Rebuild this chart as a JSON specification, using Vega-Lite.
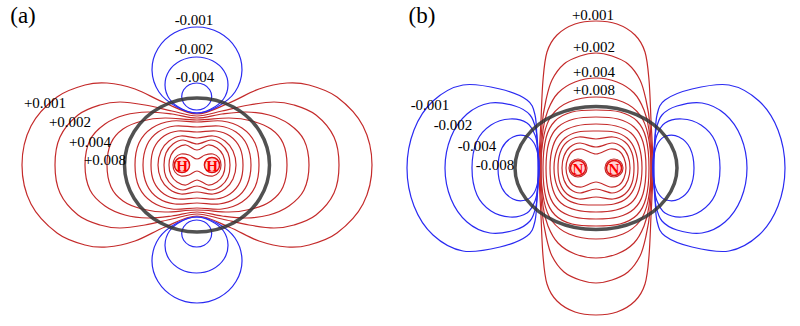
{
"$schema": "https://vega.github.io/schema/vega-lite/v6.json",
"width": 800, "height": 326, "padding": 0,
"autosize": {"type": "fit", "contains": "padding"},
"background": "white",
"config": {"view": {"stroke": null}},
"datasets": {
"red": [
{"c":"a1","x":22,"y":165},{"c":"a1","x":31,"y":126},{"c":"a1","x":57,"y":97},{"c":"a1","x":85,"y":85},{"c":"a1","x":107,"y":83},{"c":"a1","x":135,"y":89},{"c":"a1","x":165,"y":103},{"c":"a1","x":197,"y":114},{"c":"a1","x":229,"y":103},{"c":"a1","x":259,"y":89},{"c":"a1","x":287,"y":83},{"c":"a1","x":309,"y":85},{"c":"a1","x":337,"y":97},{"c":"a1","x":363,"y":126},{"c":"a1","x":372,"y":165},{"c":"a1","x":363,"y":204},{"c":"a1","x":337,"y":233},{"c":"a1","x":309,"y":245},{"c":"a1","x":287,"y":247},{"c":"a1","x":259,"y":241},{"c":"a1","x":229,"y":227},{"c":"a1","x":197,"y":216},{"c":"a1","x":165,"y":227},{"c":"a1","x":135,"y":241},{"c":"a1","x":107,"y":247},{"c":"a1","x":85,"y":245},{"c":"a1","x":57,"y":233},{"c":"a1","x":31,"y":204},
{"c":"a2","x":55,"y":165},{"c":"a2","x":60,"y":137},{"c":"a2","x":78,"y":115},{"c":"a2","x":100,"y":105},{"c":"a2","x":120,"y":102},{"c":"a2","x":145,"y":105},{"c":"a2","x":172,"y":111},{"c":"a2","x":197,"y":116},{"c":"a2","x":222,"y":111},{"c":"a2","x":249,"y":105},{"c":"a2","x":274,"y":102},{"c":"a2","x":294,"y":105},{"c":"a2","x":316,"y":115},{"c":"a2","x":334,"y":137},{"c":"a2","x":339,"y":165},{"c":"a2","x":334,"y":193},{"c":"a2","x":316,"y":215},{"c":"a2","x":294,"y":225},{"c":"a2","x":274,"y":228},{"c":"a2","x":249,"y":225},{"c":"a2","x":222,"y":219},{"c":"a2","x":197,"y":214},{"c":"a2","x":172,"y":219},{"c":"a2","x":145,"y":225},{"c":"a2","x":120,"y":228},{"c":"a2","x":100,"y":225},{"c":"a2","x":78,"y":215},{"c":"a2","x":60,"y":193},
{"c":"a3","x":85,"y":165},{"c":"a3","x":90,"y":140},{"c":"a3","x":105,"y":124},{"c":"a3","x":125,"y":115},{"c":"a3","x":148,"y":112},{"c":"a3","x":172,"y":114},{"c":"a3","x":197,"y":118},{"c":"a3","x":222,"y":114},{"c":"a3","x":246,"y":112},{"c":"a3","x":269,"y":115},{"c":"a3","x":289,"y":124},{"c":"a3","x":304,"y":140},{"c":"a3","x":309,"y":165},{"c":"a3","x":304,"y":190},{"c":"a3","x":289,"y":206},{"c":"a3","x":269,"y":215},{"c":"a3","x":246,"y":218},{"c":"a3","x":222,"y":216},{"c":"a3","x":197,"y":212},{"c":"a3","x":172,"y":216},{"c":"a3","x":148,"y":218},{"c":"a3","x":125,"y":215},{"c":"a3","x":105,"y":206},{"c":"a3","x":90,"y":190},
{"c":"a4","x":107,"y":165},{"c":"a4","x":111,"y":143},{"c":"a4","x":123,"y":129},{"c":"a4","x":142,"y":121},{"c":"a4","x":165,"y":118},{"c":"a4","x":197,"y":120},{"c":"a4","x":229,"y":118},{"c":"a4","x":252,"y":121},{"c":"a4","x":271,"y":129},{"c":"a4","x":283,"y":143},{"c":"a4","x":287,"y":165},{"c":"a4","x":283,"y":187},{"c":"a4","x":271,"y":201},{"c":"a4","x":252,"y":209},{"c":"a4","x":229,"y":212},{"c":"a4","x":197,"y":210},{"c":"a4","x":165,"y":212},{"c":"a4","x":142,"y":209},{"c":"a4","x":123,"y":201},{"c":"a4","x":111,"y":187},
{"c":"a5","x":135,"y":165},{"c":"a5","x":139,"y":143},{"c":"a5","x":152,"y":128},{"c":"a5","x":172,"y":121},{"c":"a5","x":197,"y":122},{"c":"a5","x":222,"y":121},{"c":"a5","x":242,"y":128},{"c":"a5","x":255,"y":143},{"c":"a5","x":259,"y":165},{"c":"a5","x":255,"y":187},{"c":"a5","x":242,"y":202},{"c":"a5","x":222,"y":209},{"c":"a5","x":197,"y":208},{"c":"a5","x":172,"y":209},{"c":"a5","x":152,"y":202},{"c":"a5","x":139,"y":187},
{"c":"a6","x":143,"y":165},{"c":"a6","x":147,"y":145},{"c":"a6","x":158,"y":132},{"c":"a6","x":175,"y":126},{"c":"a6","x":197,"y":127},{"c":"a6","x":219,"y":126},{"c":"a6","x":236,"y":132},{"c":"a6","x":247,"y":145},{"c":"a6","x":251,"y":165},{"c":"a6","x":247,"y":185},{"c":"a6","x":236,"y":198},{"c":"a6","x":219,"y":204},{"c":"a6","x":197,"y":203},{"c":"a6","x":175,"y":204},{"c":"a6","x":158,"y":198},{"c":"a6","x":147,"y":185},
{"c":"a7","x":151,"y":165},{"c":"a7","x":154,"y":148},{"c":"a7","x":164,"y":136},{"c":"a7","x":178,"y":131},{"c":"a7","x":197,"y":132},{"c":"a7","x":216,"y":131},{"c":"a7","x":230,"y":136},{"c":"a7","x":240,"y":148},{"c":"a7","x":243,"y":165},{"c":"a7","x":240,"y":182},{"c":"a7","x":230,"y":194},{"c":"a7","x":216,"y":199},{"c":"a7","x":197,"y":198},{"c":"a7","x":178,"y":199},{"c":"a7","x":164,"y":194},{"c":"a7","x":154,"y":182},
{"c":"a8","x":158,"y":165},{"c":"a8","x":161,"y":151},{"c":"a8","x":169,"y":141},{"c":"a8","x":181,"y":136},{"c":"a8","x":197,"y":138},{"c":"a8","x":213,"y":136},{"c":"a8","x":225,"y":141},{"c":"a8","x":233,"y":151},{"c":"a8","x":236,"y":165},{"c":"a8","x":233,"y":179},{"c":"a8","x":225,"y":189},{"c":"a8","x":213,"y":194},{"c":"a8","x":197,"y":192},{"c":"a8","x":181,"y":194},{"c":"a8","x":169,"y":189},{"c":"a8","x":161,"y":179},
{"c":"a9","x":164,"y":165},{"c":"a9","x":166,"y":153},{"c":"a9","x":173,"y":144},{"c":"a9","x":183,"y":140},{"c":"a9","x":197,"y":144},{"c":"a9","x":211,"y":140},{"c":"a9","x":221,"y":144},{"c":"a9","x":228,"y":153},{"c":"a9","x":230,"y":165},{"c":"a9","x":228,"y":177},{"c":"a9","x":221,"y":186},{"c":"a9","x":211,"y":190},{"c":"a9","x":197,"y":186},{"c":"a9","x":183,"y":190},{"c":"a9","x":173,"y":186},{"c":"a9","x":166,"y":177},
{"c":"a10","x":169,"y":165},{"c":"a10","x":171,"y":155},{"c":"a10","x":177,"y":148},{"c":"a10","x":186,"y":145},{"c":"a10","x":197,"y":150},{"c":"a10","x":208,"y":145},{"c":"a10","x":217,"y":148},{"c":"a10","x":223,"y":155},{"c":"a10","x":225,"y":165},{"c":"a10","x":223,"y":175},{"c":"a10","x":217,"y":182},{"c":"a10","x":208,"y":185},{"c":"a10","x":197,"y":180},{"c":"a10","x":186,"y":185},{"c":"a10","x":177,"y":182},{"c":"a10","x":171,"y":175},
{"c":"a11","x":173,"y":165},{"c":"a11","x":175,"y":158},{"c":"a11","x":181,"y":154},{"c":"a11","x":189,"y":155},{"c":"a11","x":197,"y":159},{"c":"a11","x":205,"y":155},{"c":"a11","x":213,"y":154},{"c":"a11","x":219,"y":158},{"c":"a11","x":221,"y":165},{"c":"a11","x":219,"y":172},{"c":"a11","x":213,"y":176},{"c":"a11","x":205,"y":175},{"c":"a11","x":197,"y":171},{"c":"a11","x":189,"y":175},{"c":"a11","x":181,"y":176},{"c":"a11","x":175,"y":172},
{"c":"b1","x":539,"y":168},{"c":"b1","x":541,"y":120},{"c":"b1","x":543,"y":80},{"c":"b1","x":547,"y":52},{"c":"b1","x":557,"y":35},{"c":"b1","x":575,"y":24},{"c":"b1","x":596,"y":21},{"c":"b1","x":617,"y":24},{"c":"b1","x":635,"y":35},{"c":"b1","x":645,"y":52},{"c":"b1","x":649,"y":80},{"c":"b1","x":651,"y":120},{"c":"b1","x":653,"y":168},{"c":"b1","x":651,"y":216},{"c":"b1","x":649,"y":256},{"c":"b1","x":645,"y":284},{"c":"b1","x":635,"y":301},{"c":"b1","x":617,"y":312},{"c":"b1","x":596,"y":315},{"c":"b1","x":575,"y":312},{"c":"b1","x":557,"y":301},{"c":"b1","x":547,"y":284},{"c":"b1","x":543,"y":256},{"c":"b1","x":541,"y":216},
{"c":"b2","x":540,"y":168},{"c":"b2","x":542,"y":125},{"c":"b2","x":546,"y":100},{"c":"b2","x":552,"y":80},{"c":"b2","x":564,"y":64},{"c":"b2","x":580,"y":56},{"c":"b2","x":596,"y":53},{"c":"b2","x":612,"y":56},{"c":"b2","x":628,"y":64},{"c":"b2","x":640,"y":80},{"c":"b2","x":646,"y":100},{"c":"b2","x":650,"y":125},{"c":"b2","x":652,"y":168},{"c":"b2","x":650,"y":211},{"c":"b2","x":646,"y":236},{"c":"b2","x":640,"y":256},{"c":"b2","x":628,"y":272},{"c":"b2","x":612,"y":280},{"c":"b2","x":596,"y":283},{"c":"b2","x":580,"y":280},{"c":"b2","x":564,"y":272},{"c":"b2","x":552,"y":256},{"c":"b2","x":546,"y":236},{"c":"b2","x":542,"y":211},
{"c":"b3","x":541,"y":168},{"c":"b3","x":543,"y":130},{"c":"b3","x":548,"y":110},{"c":"b3","x":558,"y":93},{"c":"b3","x":575,"y":82},{"c":"b3","x":596,"y":78},{"c":"b3","x":617,"y":82},{"c":"b3","x":634,"y":93},{"c":"b3","x":644,"y":110},{"c":"b3","x":649,"y":130},{"c":"b3","x":651,"y":168},{"c":"b3","x":649,"y":206},{"c":"b3","x":644,"y":226},{"c":"b3","x":634,"y":243},{"c":"b3","x":617,"y":254},{"c":"b3","x":596,"y":258},{"c":"b3","x":575,"y":254},{"c":"b3","x":558,"y":243},{"c":"b3","x":548,"y":226},{"c":"b3","x":543,"y":206},
{"c":"b4","x":541,"y":168},{"c":"b4","x":544,"y":135},{"c":"b4","x":552,"y":115},{"c":"b4","x":569,"y":102},{"c":"b4","x":596,"y":97},{"c":"b4","x":623,"y":102},{"c":"b4","x":640,"y":115},{"c":"b4","x":648,"y":135},{"c":"b4","x":651,"y":168},{"c":"b4","x":648,"y":201},{"c":"b4","x":640,"y":221},{"c":"b4","x":623,"y":234},{"c":"b4","x":596,"y":239},{"c":"b4","x":569,"y":234},{"c":"b4","x":552,"y":221},{"c":"b4","x":544,"y":201},
{"c":"b5","x":543,"y":168},{"c":"b5","x":546,"y":138},{"c":"b5","x":555,"y":121},{"c":"b5","x":572,"y":112},{"c":"b5","x":596,"y":110},{"c":"b5","x":620,"y":112},{"c":"b5","x":637,"y":121},{"c":"b5","x":646,"y":138},{"c":"b5","x":649,"y":168},{"c":"b5","x":646,"y":198},{"c":"b5","x":637,"y":215},{"c":"b5","x":620,"y":224},{"c":"b5","x":596,"y":226},{"c":"b5","x":572,"y":224},{"c":"b5","x":555,"y":215},{"c":"b5","x":546,"y":198},
{"c":"b6","x":546,"y":168},{"c":"b6","x":549,"y":142},{"c":"b6","x":558,"y":127},{"c":"b6","x":574,"y":119},{"c":"b6","x":596,"y":117},{"c":"b6","x":618,"y":119},{"c":"b6","x":634,"y":127},{"c":"b6","x":643,"y":142},{"c":"b6","x":646,"y":168},{"c":"b6","x":643,"y":194},{"c":"b6","x":634,"y":209},{"c":"b6","x":618,"y":217},{"c":"b6","x":596,"y":219},{"c":"b6","x":574,"y":217},{"c":"b6","x":558,"y":209},{"c":"b6","x":549,"y":194},
{"c":"b7","x":550,"y":168},{"c":"b7","x":553,"y":146},{"c":"b7","x":561,"y":133},{"c":"b7","x":576,"y":126},{"c":"b7","x":596,"y":124},{"c":"b7","x":616,"y":126},{"c":"b7","x":631,"y":133},{"c":"b7","x":639,"y":146},{"c":"b7","x":642,"y":168},{"c":"b7","x":639,"y":190},{"c":"b7","x":631,"y":203},{"c":"b7","x":616,"y":210},{"c":"b7","x":596,"y":212},{"c":"b7","x":576,"y":210},{"c":"b7","x":561,"y":203},{"c":"b7","x":553,"y":190},
{"c":"b8","x":554,"y":168},{"c":"b8","x":557,"y":150},{"c":"b8","x":565,"y":138},{"c":"b8","x":578,"y":132},{"c":"b8","x":596,"y":131},{"c":"b8","x":614,"y":132},{"c":"b8","x":627,"y":138},{"c":"b8","x":635,"y":150},{"c":"b8","x":638,"y":168},{"c":"b8","x":635,"y":186},{"c":"b8","x":627,"y":198},{"c":"b8","x":614,"y":204},{"c":"b8","x":596,"y":205},{"c":"b8","x":578,"y":204},{"c":"b8","x":565,"y":198},{"c":"b8","x":557,"y":186},
{"c":"b9","x":558,"y":168},{"c":"b9","x":560,"y":153},{"c":"b9","x":567,"y":142},{"c":"b9","x":579,"y":137},{"c":"b9","x":596,"y":139},{"c":"b9","x":613,"y":137},{"c":"b9","x":625,"y":142},{"c":"b9","x":632,"y":153},{"c":"b9","x":634,"y":168},{"c":"b9","x":632,"y":183},{"c":"b9","x":625,"y":194},{"c":"b9","x":613,"y":199},{"c":"b9","x":596,"y":197},{"c":"b9","x":579,"y":199},{"c":"b9","x":567,"y":194},{"c":"b9","x":560,"y":183},
{"c":"b10","x":562,"y":168},{"c":"b10","x":564,"y":156},{"c":"b10","x":570,"y":147},{"c":"b10","x":580,"y":143},{"c":"b10","x":596,"y":147},{"c":"b10","x":612,"y":143},{"c":"b10","x":622,"y":147},{"c":"b10","x":628,"y":156},{"c":"b10","x":630,"y":168},{"c":"b10","x":628,"y":180},{"c":"b10","x":622,"y":189},{"c":"b10","x":612,"y":193},{"c":"b10","x":596,"y":189},{"c":"b10","x":580,"y":193},{"c":"b10","x":570,"y":189},{"c":"b10","x":564,"y":180},
{"c":"b11","x":566,"y":168},{"c":"b11","x":568,"y":158},{"c":"b11","x":573,"y":151},{"c":"b11","x":582,"y":149},{"c":"b11","x":596,"y":154},{"c":"b11","x":610,"y":149},{"c":"b11","x":619,"y":151},{"c":"b11","x":624,"y":158},{"c":"b11","x":626,"y":168},{"c":"b11","x":624,"y":178},{"c":"b11","x":619,"y":185},{"c":"b11","x":610,"y":187},{"c":"b11","x":596,"y":182},{"c":"b11","x":582,"y":187},{"c":"b11","x":573,"y":185},{"c":"b11","x":568,"y":178},
{"c":"b12","x":569,"y":168},{"c":"b12","x":571.6,"y":161.6},{"c":"b12","x":578,"y":159},{"c":"b12","x":584.4,"y":161.6},{"c":"b12","x":587,"y":168},{"c":"b12","x":584.4,"y":174.4},{"c":"b12","x":578,"y":177},{"c":"b12","x":571.6,"y":174.4},
{"c":"b13","x":605,"y":168},{"c":"b13","x":607.6,"y":161.6},{"c":"b13","x":614,"y":159},{"c":"b13","x":620.4,"y":161.6},{"c":"b13","x":623,"y":168},{"c":"b13","x":620.4,"y":174.4},{"c":"b13","x":614,"y":177},{"c":"b13","x":607.6,"y":174.4}
],
"blue": [
{"c":"a1t","x":242,"y":70},{"c":"a1t","x":236,"y":48.5},{"c":"a1t","x":219.5,"y":32.8},{"c":"a1t","x":197,"y":27},{"c":"a1t","x":174.5,"y":32.8},{"c":"a1t","x":158,"y":48.5},{"c":"a1t","x":152,"y":70},{"c":"a1t","x":159,"y":92},{"c":"a1t","x":177,"y":107},{"c":"a1t","x":197,"y":113},{"c":"a1t","x":217,"y":107},{"c":"a1t","x":235,"y":92},
{"c":"a2t","x":228,"y":85},{"c":"a2t","x":224,"y":71},{"c":"a2t","x":212.5,"y":60.8},{"c":"a2t","x":196.5,"y":57},{"c":"a2t","x":180.5,"y":60.8},{"c":"a2t","x":169,"y":71},{"c":"a2t","x":165,"y":85},{"c":"a2t","x":169.5,"y":99},{"c":"a2t","x":182,"y":109},{"c":"a2t","x":196.5,"y":113},{"c":"a2t","x":211,"y":109},{"c":"a2t","x":223.5,"y":99},
{"c":"a3t","x":211.7,"y":96.5},{"c":"a3t","x":209.7,"y":89.7},{"c":"a3t","x":204.2,"y":84.8},{"c":"a3t","x":196.7,"y":83},{"c":"a3t","x":189.2,"y":84.8},{"c":"a3t","x":183.7,"y":89.7},{"c":"a3t","x":181.7,"y":96.5},{"c":"a3t","x":183.7,"y":103.3},{"c":"a3t","x":189.2,"y":108.2},{"c":"a3t","x":196.7,"y":110},{"c":"a3t","x":204.2,"y":108.2},{"c":"a3t","x":209.7,"y":103.3},
{"c":"a1b","x":242,"y":260},{"c":"a1b","x":236,"y":281.5},{"c":"a1b","x":219.5,"y":297.2},{"c":"a1b","x":197,"y":303},{"c":"a1b","x":174.5,"y":297.2},{"c":"a1b","x":158,"y":281.5},{"c":"a1b","x":152,"y":260},{"c":"a1b","x":159,"y":238},{"c":"a1b","x":177,"y":223},{"c":"a1b","x":197,"y":217},{"c":"a1b","x":217,"y":223},{"c":"a1b","x":235,"y":238},
{"c":"a2b","x":228,"y":245},{"c":"a2b","x":224,"y":259},{"c":"a2b","x":212.5,"y":269.2},{"c":"a2b","x":196.5,"y":273},{"c":"a2b","x":180.5,"y":269.2},{"c":"a2b","x":169,"y":259},{"c":"a2b","x":165,"y":245},{"c":"a2b","x":169.5,"y":231},{"c":"a2b","x":182,"y":221},{"c":"a2b","x":196.5,"y":217},{"c":"a2b","x":211,"y":221},{"c":"a2b","x":223.5,"y":231},
{"c":"a3b","x":211.7,"y":233.5},{"c":"a3b","x":209.7,"y":240.3},{"c":"a3b","x":204.2,"y":245.2},{"c":"a3b","x":196.7,"y":247},{"c":"a3b","x":189.2,"y":245.2},{"c":"a3b","x":183.7,"y":240.3},{"c":"a3b","x":181.7,"y":233.5},{"c":"a3b","x":183.7,"y":226.7},{"c":"a3b","x":189.2,"y":221.8},{"c":"a3b","x":196.7,"y":220},{"c":"a3b","x":204.2,"y":221.8},{"c":"a3b","x":209.7,"y":226.7},
{"c":"b1l","x":407,"y":168},{"c":"b1l","x":414,"y":130},{"c":"b1l","x":433,"y":101},{"c":"b1l","x":463,"y":85},{"c":"b1l","x":500,"y":89},{"c":"b1l","x":527,"y":100},{"c":"b1l","x":535,"y":115},{"c":"b1l","x":537,"y":140},{"c":"b1l","x":538,"y":168},{"c":"b1l","x":537,"y":196},{"c":"b1l","x":535,"y":221},{"c":"b1l","x":527,"y":236},{"c":"b1l","x":500,"y":247},{"c":"b1l","x":463,"y":251},{"c":"b1l","x":433,"y":235},{"c":"b1l","x":414,"y":206},
{"c":"b2l","x":445,"y":168},{"c":"b2l","x":451,"y":137},{"c":"b2l","x":467,"y":114},{"c":"b2l","x":490,"y":103},{"c":"b2l","x":515,"y":106},{"c":"b2l","x":530,"y":115},{"c":"b2l","x":536,"y":130},{"c":"b2l","x":538,"y":150},{"c":"b2l","x":539,"y":168},{"c":"b2l","x":538,"y":186},{"c":"b2l","x":536,"y":206},{"c":"b2l","x":530,"y":221},{"c":"b2l","x":515,"y":230},{"c":"b2l","x":490,"y":233},{"c":"b2l","x":467,"y":222},{"c":"b2l","x":451,"y":199},
{"c":"b3l","x":472,"y":168},{"c":"b3l","x":477,"y":141},{"c":"b3l","x":491,"y":125},{"c":"b3l","x":510,"y":119},{"c":"b3l","x":527,"y":123},{"c":"b3l","x":535,"y":135},{"c":"b3l","x":538,"y":150},{"c":"b3l","x":539,"y":168},{"c":"b3l","x":538,"y":186},{"c":"b3l","x":535,"y":201},{"c":"b3l","x":527,"y":213},{"c":"b3l","x":510,"y":217},{"c":"b3l","x":491,"y":211},{"c":"b3l","x":477,"y":195},
{"c":"b4l","x":498,"y":168},{"c":"b4l","x":502,"y":148},{"c":"b4l","x":513,"y":137},{"c":"b4l","x":526,"y":136},{"c":"b4l","x":534,"y":143},{"c":"b4l","x":538,"y":155},{"c":"b4l","x":539,"y":168},{"c":"b4l","x":538,"y":181},{"c":"b4l","x":534,"y":193},{"c":"b4l","x":526,"y":200},{"c":"b4l","x":513,"y":199},{"c":"b4l","x":502,"y":188},
{"c":"b1r","x":785,"y":168},{"c":"b1r","x":778,"y":130},{"c":"b1r","x":759,"y":101},{"c":"b1r","x":729,"y":85},{"c":"b1r","x":692,"y":89},{"c":"b1r","x":665,"y":100},{"c":"b1r","x":657,"y":115},{"c":"b1r","x":655,"y":140},{"c":"b1r","x":654,"y":168},{"c":"b1r","x":655,"y":196},{"c":"b1r","x":657,"y":221},{"c":"b1r","x":665,"y":236},{"c":"b1r","x":692,"y":247},{"c":"b1r","x":729,"y":251},{"c":"b1r","x":759,"y":235},{"c":"b1r","x":778,"y":206},
{"c":"b2r","x":747,"y":168},{"c":"b2r","x":741,"y":137},{"c":"b2r","x":725,"y":114},{"c":"b2r","x":702,"y":103},{"c":"b2r","x":677,"y":106},{"c":"b2r","x":662,"y":115},{"c":"b2r","x":656,"y":130},{"c":"b2r","x":654,"y":150},{"c":"b2r","x":653,"y":168},{"c":"b2r","x":654,"y":186},{"c":"b2r","x":656,"y":206},{"c":"b2r","x":662,"y":221},{"c":"b2r","x":677,"y":230},{"c":"b2r","x":702,"y":233},{"c":"b2r","x":725,"y":222},{"c":"b2r","x":741,"y":199},
{"c":"b3r","x":720,"y":168},{"c":"b3r","x":715,"y":141},{"c":"b3r","x":701,"y":125},{"c":"b3r","x":682,"y":119},{"c":"b3r","x":665,"y":123},{"c":"b3r","x":657,"y":135},{"c":"b3r","x":654,"y":150},{"c":"b3r","x":653,"y":168},{"c":"b3r","x":654,"y":186},{"c":"b3r","x":657,"y":201},{"c":"b3r","x":665,"y":213},{"c":"b3r","x":682,"y":217},{"c":"b3r","x":701,"y":211},{"c":"b3r","x":715,"y":195},
{"c":"b4r","x":694,"y":168},{"c":"b4r","x":690,"y":148},{"c":"b4r","x":679,"y":137},{"c":"b4r","x":666,"y":136},{"c":"b4r","x":658,"y":143},{"c":"b4r","x":654,"y":155},{"c":"b4r","x":653,"y":168},{"c":"b4r","x":654,"y":181},{"c":"b4r","x":658,"y":193},{"c":"b4r","x":666,"y":200},{"c":"b4r","x":679,"y":199},{"c":"b4r","x":690,"y":188}
],
"ell": [
{"c":"ea","x":269.5,"y":165},{"c":"ea","x":259.8,"y":131.5},{"c":"ea","x":233.3,"y":107},{"c":"ea","x":197,"y":98},{"c":"ea","x":160.8,"y":107},{"c":"ea","x":134.2,"y":131.5},{"c":"ea","x":124.5,"y":165},{"c":"ea","x":134.2,"y":198.5},{"c":"ea","x":160.8,"y":223},{"c":"ea","x":197,"y":232},{"c":"ea","x":233.3,"y":223},{"c":"ea","x":259.8,"y":198.5},
{"c":"eb","x":677,"y":168},{"c":"eb","x":666.1,"y":137.25},{"c":"eb","x":636.5,"y":114.7},{"c":"eb","x":596,"y":106.5},{"c":"eb","x":555.5,"y":114.7},{"c":"eb","x":525.9,"y":137.25},{"c":"eb","x":515,"y":168},{"c":"eb","x":525.9,"y":198.75},{"c":"eb","x":555.5,"y":221.3},{"c":"eb","x":596,"y":229.5},{"c":"eb","x":636.5,"y":221.3},{"c":"eb","x":666.1,"y":198.75}
],
"atoms": [
{"x":182,"y":165,"t":"H"},{"x":212,"y":165,"t":"H"},{"x":578,"y":168,"t":"N"},{"x":614,"y":168,"t":"N"}
],
"panels": [
{"x":23,"y":16,"t":"(a)"},{"x":422,"y":16,"t":"(b)"}
],
"labels": [
{"x":194,"y":20,"t":"-0.001"},{"x":194,"y":49,"t":"-0.002"},{"x":195,"y":77,"t":"-0.004"},
{"x":45,"y":103,"t":"+0.001"},{"x":70,"y":122,"t":"+0.002"},{"x":90,"y":142,"t":"+0.004"},{"x":105,"y":160,"t":"+0.008"},
{"x":593,"y":15,"t":"+0.001"},{"x":594,"y":47,"t":"+0.002"},{"x":594,"y":72,"t":"+0.004"},{"x":594,"y":90,"t":"+0.008"},
{"x":430,"y":105,"t":"-0.001"},{"x":453,"y":125,"t":"-0.002"},{"x":477,"y":146,"t":"-0.004"},{"x":495,"y":165,"t":"-0.008"}
]
},
"encoding": {
"x": {"field": "x", "type": "quantitative", "scale": {"domain": [0, 800], "nice": false, "zero": false}, "axis": null},
"y": {"field": "y", "type": "quantitative", "scale": {"domain": [0, 326], "nice": false, "zero": false, "reverse": true}, "axis": null}
},
"layer": [
{"data": {"name": "red"}, "mark": {"type": "line", "interpolate": "cardinal-closed", "strokeWidth": 1.2, "color": "#c42a2a"}, "encoding": {"detail": {"field": "c"}, "order": {"value": null}}},
{"data": {"name": "blue"}, "mark": {"type": "line", "interpolate": "cardinal-closed", "strokeWidth": 1.2, "color": "#2a2af2"}, "encoding": {"detail": {"field": "c"}, "order": {"value": null}}},
{"data": {"name": "ell"}, "mark": {"type": "line", "interpolate": "cardinal-closed", "strokeWidth": 3.5, "color": "#333333", "opacity": 0.85}, "encoding": {"detail": {"field": "c"}, "order": {"value": null}}},
{"data": {"name": "atoms"}, "mark": {"type": "point", "shape": "circle", "size": 230, "filled": true, "fill": "#ffd2d2", "stroke": "#e01010", "strokeWidth": 1.5, "opacity": 1}},
{"data": {"name": "atoms"}, "mark": {"type": "text", "font": "Liberation Serif, Times New Roman, serif", "fontWeight": "bold", "fontSize": 15, "color": "#ff0000", "align": "center", "baseline": "middle", "dy": 1}, "encoding": {"text": {"field": "t"}}},
{"data": {"name": "panels"}, "mark": {"type": "text", "font": "Liberation Serif, Times New Roman, serif", "fontSize": 23, "color": "black", "align": "center", "baseline": "middle"}, "encoding": {"text": {"field": "t"}}},
{"data": {"name": "labels"}, "mark": {"type": "text", "font": "Liberation Serif, Times New Roman, serif", "fontSize": 15, "color": "black", "align": "center", "baseline": "middle"}, "encoding": {"text": {"field": "t"}}}
]
}
